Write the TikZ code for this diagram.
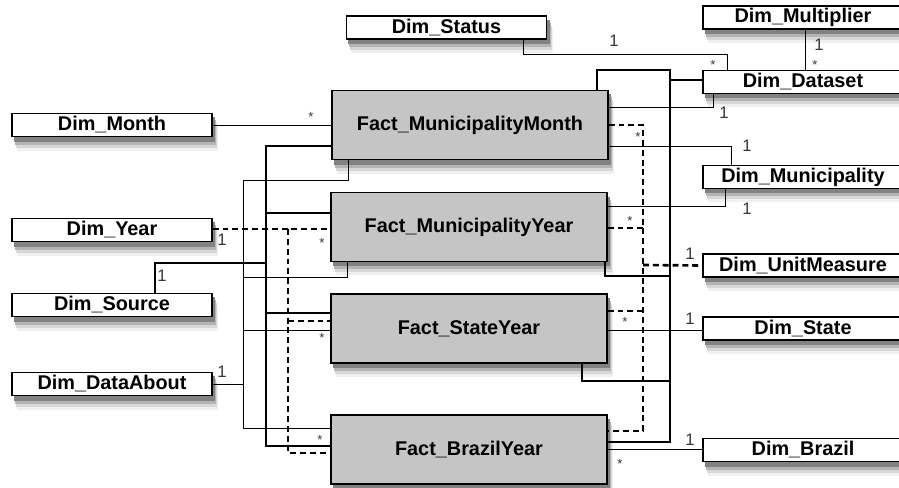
\documentclass[tikz,border=0pt]{standalone}
\usepackage{fontspec}
\setsansfont{Liberation Sans}
\usepackage{tikz}
\definecolor{factGray}{RGB}{197,197,197}
\definecolor{cardColor}{RGB}{55,55,55}
\definecolor{shadeA}{RGB}{240,240,240}
\definecolor{shadeB}{RGB}{215,215,215}
\definecolor{shadeC}{RGB}{180,180,180}
\definecolor{shadeD}{RGB}{130,130,130}
\tikzstyle{schema} = [x=0.02cm, y=-0.02cm]
\tikzstyle{tableBox} = [draw=black, line width=0.8pt, inner sep=0pt, font=\sffamily\bfseries\fontsize{11.3}{13}\selectfont]
\tikzstyle{dimBox} = [tableBox, fill=white, minimum width=4cm, minimum height=0.46cm]
\tikzstyle{factBox} = [tableBox, fill=factGray, minimum width=5.52cm, minimum height=1.38cm]
\tikzstyle{thinLink} = [line width=0.5pt]
\tikzstyle{thickLink} = [line width=1.3pt]
\tikzstyle{dashLink} = [line width=1.5pt, dash pattern=on 3.4pt off 2.2pt]
\tikzstyle{cardText} = [font=\sffamily\fontsize{9.5}{10}\selectfont, text=cardColor, inner sep=0pt]
\tikzstyle{starText} = [font=\sffamily\fontsize{7.5}{8}\selectfont, text=cardColor, inner sep=0pt]
\newcommand{\card}[3]{\node [cardText] (#1) at (#2) {#3};}
\newcommand{\cardStar}[2]{\node [starText] (#1) at (#2) {*};}
% layered drop shadow under a table: corners x1,y1,x2,y2
\newcommand{\tableShadow}[4]{
  \filldraw [shadeA, line width=0.2pt] (#1+5,#2+13) rectangle (#3+5,#4+13);
  \filldraw [shadeB, line width=0.2pt] (#1+4,#2+10) rectangle (#3+4,#4+10);
  \filldraw [shadeC, line width=0.2pt] (#1+3,#2+7) rectangle (#3+3,#4+7);
  \filldraw [shadeD, line width=0.2pt] (#1+2,#2+4) rectangle (#3+2,#4+4);
}
\begin{document}
\begin{tikzpicture}[schema]
    \useasboundingbox (0,0) rectangle (899,487);
    % shadows
    \tableShadow{346}{16}{547}{39}
    \tableShadow{703}{6}{903}{29}
    \tableShadow{703}{71}{903}{93}
    \tableShadow{703}{166}{903}{188}
    \tableShadow{703}{254}{903}{277}
    \tableShadow{703}{317}{903}{340}
    \tableShadow{703}{438}{903}{462}
    \tableShadow{12}{113}{212}{137}
    \tableShadow{12}{218}{212}{242}
    \tableShadow{12}{293}{212}{317}
    \tableShadow{12}{372}{212}{396}
    \tableShadow{332}{90}{608}{160}
    \tableShadow{331}{193}{607}{261}
    \tableShadow{331}{294}{607}{363}
    \tableShadow{331}{415}{607}{484}
    % dimension tables
    \node [dimBox] (dimStatus) at (446.5,27.5) {Dim\_Status};
    \node [dimBox] (dimMultiplier) at (803,17.5) {Dim\_Multiplier};
    \node [dimBox] (dimDataset) at (803,82) {Dim\_Dataset};
    \node [dimBox] (dimMunicipality) at (803,177) {Dim\_Municipality};
    \node [dimBox] (dimUnitMeasure) at (803,265.5) {Dim\_UnitMeasure};
    \node [dimBox] (dimState) at (803,328.5) {Dim\_State};
    \node [dimBox] (dimBrazil) at (803,450) {Dim\_Brazil};
    \node [dimBox] (dimMonth) at (112,125) {Dim\_Month};
    \node [dimBox] (dimYear) at (112,230) {Dim\_Year};
    \node [dimBox] (dimSource) at (112,305) {Dim\_Source};
    \node [dimBox] (dimDataAbout) at (112,384) {Dim\_DataAbout};
    % fact tables
    \node [factBox] (factMM) at (470,125) {Fact\_MunicipalityMonth};
    \node [factBox] (factMY) at (469,227) {Fact\_MunicipalityYear};
    \node [factBox] (factSY) at (469,328.5) {Fact\_StateYear};
    \node [factBox] (factBY) at (469,449.5) {Fact\_BrazilYear};
    % right side links
    \draw [thinLink] (dimStatus.south -| 523,0) |- (727,54) -- (dimDataset.north -| 727,0);
    \draw [thinLink] (dimMultiplier.south -| 805,0) -- (dimDataset.north -| 805,0);
    \draw [thickLink] (factMM.north -| 597,0) |- (670,70) -- (670,442) -- (factBY.east |- 0,442);
    \draw [thickLink] (670,80) -- (dimDataset.west |- 0,80);
    \draw [thickLink] (factMY.south -| 605,0) |- (670,276);
    \draw [thickLink] (factSY.south -| 582,0) |- (670,381);
    \draw [thinLink] (factMM.east |- 0,107) -| (dimDataset.south -| 713,0);
    \draw [thinLink] (factMM.east |- 0,146) -| (dimMunicipality.north -| 731,0);
    \draw [thinLink] (factMY.east |- 0,206) -| (dimMunicipality.south -| 725,0);
    \draw [thinLink] (factSY.east |- 0,330) -- (dimState.west |- 0,330);
    \draw [thinLink] (factBY.east |- 0,449) -- (dimBrazil.west |- 0,449);
    \draw [dashLink] (factMM.east |- 0,125) -| (643,431) -- (factBY.east |- 0,431);
    \draw [dashLink] (factMY.east |- 0,228) -- (643,228);
    \draw [dashLink] (factSY.east |- 0,311) -- (643,311);
    \draw [dashLink] (643,265) -- (dimUnitMeasure.west);
    % left side links
    \draw [thinLink] (dimMonth.east) -- (factMM.west |- dimMonth.east);
    \draw [thickLink] (dimSource.north -| 155,0) |- (266,263);
    \draw [thickLink] (factMM.west |- 0,146) -| (266,446) -- (factBY.west |- 0,446);
    \draw [thickLink] (266,213) -- (factMY.west |- 0,213);
    \draw [thickLink] (266,313) -- (factSY.west |- 0,313);
    \draw [thinLink] (factMM.south -| 348,0) |- (243,180) -- (243,428) -- (factBY.west |- 0,428);
    \draw [thinLink] (factMY.south -| 347,0) |- (243,277);
    \draw [thinLink] (243,330) -- (factSY.west |- 0,330);
    \draw [thinLink] (dimDataAbout.east) -- (243,384);
    \draw [dashLink] (dimYear.east |- 0,229) -- (factMY.west |- 0,229);
    \draw [dashLink] (288,229) |- (factBY.west |- 0,453);
    \draw [dashLink] (288,321) -- (factSY.west |- 0,321);
    % cardinalities
    \card{cStatus}{614,41}{1}
    \cardStar{sStatus}{713,65}
    \card{cMultiplier}{819,45}{1}
    \cardStar{sMultiplier}{815,65}
    \card{cDataset}{724,113}{1}
    \card{cMuniTop}{747,146}{1}
    \card{cMuniBottom}{747,209}{1}
    \cardStar{sMM}{638,137}
    \cardStar{sMY}{630,221}
    \cardStar{sSY}{625,322}
    \card{cUnitMeasure}{690,254}{1}
    \card{cState}{690,319}{1}
    \card{cBrazil}{690,440}{1}
    \cardStar{sBY}{620,464}
    \cardStar{sMonth}{311,117}
    \card{cSource}{162,276}{1}
    \card{cYear}{222,240}{1}
    \cardStar{sYear}{322,243}
    \card{cDataAbout}{222,372}{1}
    \cardStar{sAboutSY}{322,338}
    \cardStar{sAboutBY}{320,440}
\end{tikzpicture}
\end{document}
